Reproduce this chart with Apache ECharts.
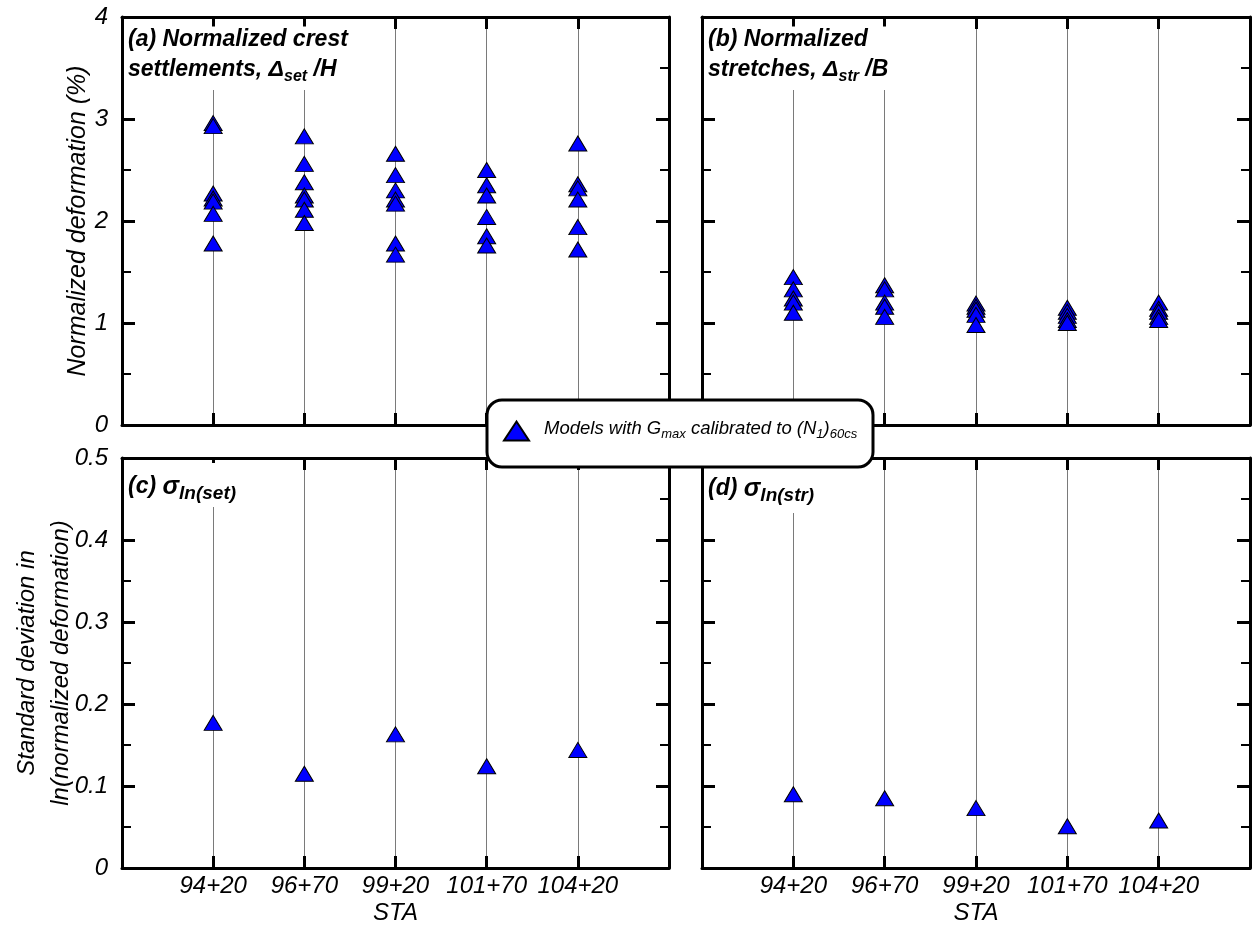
<!DOCTYPE html>
<html>
<head>
<meta charset="utf-8">
<script src="https://cdn.jsdelivr.net/npm/echarts@6/dist/echarts.min.js"></script>
<style>
    html, body { margin: 0; padding: 0; background: #fff; }
    #chart { width: 1256px; height: 926px; }
</style>
</head>
<body>
<div id="chart"></div>
<script>
// station labels (x positions 1..5)
const staLabels = ['94+20', '96+70', '99+20', '101+70', '104+20'];

// (a) normalized crest settlements, one list per station (%)
const setSta1 = [2.96, 2.93, 2.27, 2.22, 2.19, 2.07, 1.78];
const setSta2 = [2.83, 2.56, 2.38, 2.25, 2.21, 2.11, 1.98];
const setSta3 = [2.66, 2.45, 2.30, 2.21, 2.17, 1.78, 1.67];
const setSta4 = [2.50, 2.35, 2.25, 2.04, 1.85, 1.76];
const setSta5 = [2.76, 2.36, 2.32, 2.21, 1.94, 1.72];

// (b) normalized stretches (%)
const strSta1 = [1.45, 1.33, 1.24, 1.20, 1.10];
const strSta2 = [1.37, 1.33, 1.20, 1.16, 1.06];
const strSta3 = [1.19, 1.16, 1.13, 1.08, 0.98];
const strSta4 = [1.15, 1.11, 1.07, 1.03, 1.00];
const strSta5 = [1.20, 1.14, 1.11, 1.06, 1.03];

// (c) and (d) standard deviations
const sigmaSet = [0.177, 0.115, 0.163, 0.124, 0.144];
const sigmaStr = [0.090, 0.085, 0.073, 0.051, 0.058];

const legendName = 'Models with Gmax calibrated to (N1)60cs';
const FONT = "'Liberation Sans', Arial, sans-serif";

const chart = echarts.init(document.getElementById('chart'));

// scatter points from per-station lists
function toPoints(lists) {
    const pts = [];
    lists.forEach((list, i) => {
        list.forEach(v => pts.push([i + 1, v]));
    });
    return pts;
}

const grids = [
    { left: 122, top: 17, width: 547, height: 408 },
    { left: 702, top: 17, width: 548, height: 408 },
    { left: 122, top: 458, width: 547, height: 410 },
    { left: 702, top: 458, width: 548, height: 410 }
];

function xAxes(gi, showLabels) {
    const base = {
        gridIndex: gi,
        type: 'value',
        min: 0,
        max: 6,
        interval: 1,
        axisLine: { show: true, onZero: false, lineStyle: { color: '#000', width: 3 } },
        axisTick: { inside: true, length: 12, lineStyle: { color: '#000', width: 3 } }
    };
    return [
        Object.assign({}, base, {
            position: 'bottom',
            splitLine: { show: true, showMinLine: false, showMaxLine: false, lineStyle: { color: '#7a7a7a', width: 1 } },
            axisLabel: {
                show: showLabels,
                margin: 6,
                fontSize: 24,
                fontStyle: 'italic',
                fontFamily: FONT,
                color: '#000',
                formatter: v => staLabels[v - 1] || ''
            },
            name: showLabels ? 'STA' : '',
            nameLocation: 'middle',
            nameGap: 33,
            nameMoveOverlap: false,
            nameTextStyle: { fontSize: 24, fontStyle: 'italic', fontFamily: FONT, color: '#000' }
        }),
        Object.assign({}, base, {
            position: 'top',
            splitLine: { show: false },
            axisLabel: { show: false }
        })
    ];
}

function yAxes(gi, max, interval, showLabels, name, nameGap, nameSize) {
    const base = {
        gridIndex: gi,
        type: 'value',
        min: 0,
        max: max,
        interval: interval,
        axisLine: { show: true, onZero: false, lineStyle: { color: '#000', width: 3 } },
        axisTick: { inside: true, length: 13, lineStyle: { color: '#000', width: 3 } },
        minorTick: { show: true, splitNumber: 2, length: 9, lineStyle: { color: '#000', width: 2 } },
        splitLine: { show: false },
        minorSplitLine: { show: false }
    };
    return [
        Object.assign({}, base, {
            position: 'left',
            axisLabel: {
                show: showLabels,
                margin: 14,
                fontSize: 24,
                fontStyle: 'italic',
                fontFamily: FONT,
                color: '#000'
            },
            name: name,
            nameLocation: 'middle',
            nameRotate: 90,
            nameGap: nameGap,
            nameMoveOverlap: false,
            nameTextStyle: { fontSize: nameSize, fontStyle: 'italic', fontFamily: FONT, color: '#000', lineHeight: 34 }
        }),
        Object.assign({}, base, {
            position: 'right',
            axisLabel: { show: false }
        })
    ];
}

const titleRich = {
    b: { fontSize: 23, fontWeight: 'bold', fontStyle: 'italic', fontFamily: FONT, color: '#000', lineHeight: 30 },
    s: { fontSize: 16, fontWeight: 'bold', fontStyle: 'italic', fontFamily: FONT, color: '#000', lineHeight: 16, padding: [14, 0, 0, 0] },
    g: { fontSize: 25, fontWeight: 'bold', fontStyle: 'italic', fontFamily: FONT, color: '#000', lineHeight: 30 },
    s2: { fontSize: 19, fontWeight: 'bold', fontStyle: 'italic', fontFamily: FONT, color: '#000', lineHeight: 19, padding: [13, 0, 0, 0] }
};

function panelTitle(text, left, top, padding) {
    return {
        text: text,
        left: left,
        top: top,
        padding: padding,
        backgroundColor: '#fff',
        textStyle: { rich: titleRich }
    };
}

function scatter(data, gi) {
    return {
        name: legendName,
        type: 'scatter',
        xAxisIndex: gi * 2,
        yAxisIndex: gi * 2,
        symbol: 'triangle',
        symbolSize: [18, 15],
        itemStyle: { color: '#0000ff', borderColor: '#000', borderWidth: 1, opacity: 1 },
        data: data,
        z: 3
    };
}

const option = {
    animation: false,
    backgroundColor: '#fff',
    grid: grids,
    title: [
        panelTitle('{b|(a) Normalized crest}\n{b|settlements, Δ}{s|set}{b| /H}', 124, 23, [2, 6, 5, 4]),
        panelTitle('{b|(b) Normalized}\n{b|stretches, Δ}{s|str}{b| /B}', 704, 23, [2, 6, 5, 4]),
        panelTitle('{b|(c) }{g|σ}{s2|ln(set)}', 124, 464, [8, 6, 4, 4]),
        panelTitle('{b|(d) }{g|σ}{s2|ln(str)}', 704, 464, [10, 6, 8, 4])
    ],
    xAxis: [].concat(xAxes(0, false), xAxes(1, false), xAxes(2, true), xAxes(3, true)),
    yAxis: [].concat(
        yAxes(0, 4, 1, true, 'Normalized deformation (%)', 27, 25),
        yAxes(1, 4, 1, false, '', 0, 24),
        yAxes(2, 0.5, 0.1, true, 'Standard deviation in\nln(normalized deformation)', 44, 24),
        yAxes(3, 0.5, 0.1, false, '', 0, 24)
    ),
    graphic: [
        {
            type: 'rect',
            z: 8,
            shape: { x: 487, y: 400, width: 386, height: 67, r: 15 },
            style: { fill: '#fff', stroke: '#000', lineWidth: 3 }
        }
    ],
    legend: {
        z: 10,
        left: 503,
        top: 419,
        padding: 0,
        selectedMode: false,
        data: [{ name: legendName, icon: 'triangle' }],
        itemWidth: 25,
        itemHeight: 19,
        formatter: () => '{t0|Models with G}{s|max}{t| calibrated to (N}{s|1}{t|)}{s|60cs}',
        textStyle: {
            rich: {
                t0: { fontSize: 18.5, fontStyle: 'italic', fontFamily: FONT, color: '#000', lineHeight: 20, padding: [0, 0, 4, 10] },
                t: { fontSize: 18.5, fontStyle: 'italic', fontFamily: FONT, color: '#000', lineHeight: 20, padding: [0, 0, 4, 0] },
                s: { fontSize: 13, fontStyle: 'italic', fontFamily: FONT, color: '#000', lineHeight: 13, padding: [9, 0, 2, 0] }
            }
        }
    },
    series: [
        scatter(toPoints([setSta1, setSta2, setSta3, setSta4, setSta5]), 0),
        scatter(toPoints([strSta1, strSta2, strSta3, strSta4, strSta5]), 1),
        scatter(sigmaSet.map((v, i) => [i + 1, v]), 2),
        scatter(sigmaStr.map((v, i) => [i + 1, v]), 3)
    ]
};

chart.setOption(option);
</script>
</body>
</html>
